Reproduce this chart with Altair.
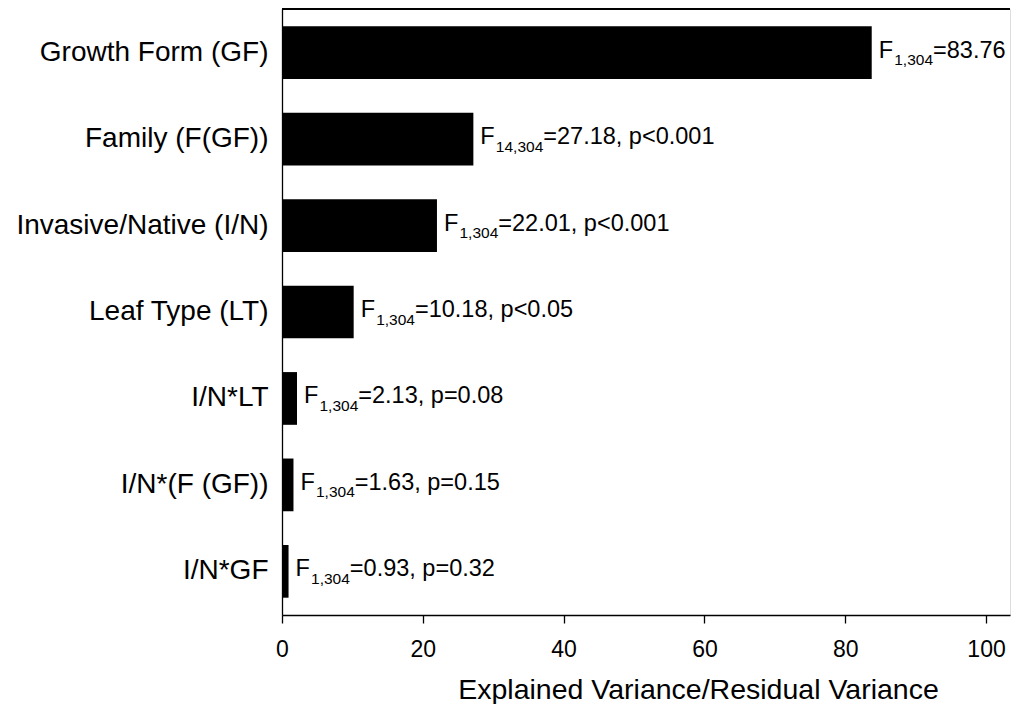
import altair as alt
import pandas as pd

categories = ["Growth Form (GF)", "Family (F(GF))", "Invasive/Native (I/N)", "Leaf Type (LT)",
              "I/N*LT", "I/N*(F (GF))", "I/N*GF"]
values = [83.76, 27.18, 22.01, 10.18, 2.13, 1.63, 0.93]
sub_labels = ["1,304", "14,304", "1,304", "1,304", "1,304", "1,304", "1,304"]
rest_labels = ["=83.76", "=27.18, p<0.001", "=22.01, p<0.001", "=10.18, p<0.05",
               "=2.13, p=0.08", "=1.63, p=0.15", "=0.93, p=0.32"]
x_ticks = [0, 20, 40, 60, 80, 100]

df = pd.DataFrame({"cat": categories, "val": values, "sub": sub_labels, "rest": rest_labels,
                   "F": ["F"] * len(categories)})

FONT = "Liberation Sans"
W, H = 728, 606

xenc = alt.X("val:Q", scale=alt.Scale(domain=[0, 103.4], nice=False, zero=True),
             axis=alt.Axis(values=x_ticks, title="Explained Variance/Residual Variance",
                           grid=False, domainColor="black", domainWidth=1.3, tickColor="black",
                           tickSize=8, tickWidth=1.3, labelFontSize=23, labelFont=FONT,
                           labelColor="black", labelPadding=15, titleFont=FONT,
                           titleFontSize=28.5, titleFontWeight="normal", titleColor="black",
                           titleX=416, titleY=83, titleAlign="center",
                           titleBaseline="alphabetic", labelFlush=False))
yenc = alt.Y("cat:N", sort=categories, scale=alt.Scale(paddingInner=0.39, paddingOuter=0.2),
             axis=alt.Axis(title=None, ticks=False, domainColor="black", domainWidth=1.3,
                           labelFontSize=28, labelFont=FONT, labelColor="black",
                           labelPadding=14, labelLimit=500, grid=False))

base = alt.Chart(df)
bars = base.mark_bar(color="black").encode(x=xenc, y=yenc)

ysort = alt.Y("cat:N", sort=categories)
t_f = base.mark_text(align="left", baseline="alphabetic", dx=7, dy=5, fontSize=23.5,
                     font=FONT, color="black").encode(x="val:Q", y=ysort, text="F:N")
t_sub = base.mark_text(align="left", baseline="alphabetic", dx=22.5, dy=12.5, fontSize=15.5,
                       font=FONT, color="black").encode(x="val:Q", y=ysort, text="sub:N")
t_rest1 = base.transform_filter(alt.datum.sub == "1,304").mark_text(
    align="left", baseline="alphabetic", dx=61.3, dy=5, fontSize=23.5, font=FONT, color="black"
).encode(x="val:Q", y=ysort, text="rest:N")
t_rest2 = base.transform_filter(alt.datum.sub == "14,304").mark_text(
    align="left", baseline="alphabetic", dx=69.9, dy=5, fontSize=23.5, font=FONT, color="black"
).encode(x="val:Q", y=ysort, text="rest:N")

top_rule = base.mark_rule(color="black", strokeWidth=1.3).encode(
    x=alt.value(0), x2=alt.value(W), y=alt.value(0))

chart = alt.layer(bars, t_f, t_sub, t_rest1, t_rest2, top_rule).properties(
    width=W, height=H,
    autosize=alt.AutoSizeParams(type="none"),
    padding={"left": 274, "top": 1, "right": 3, "bottom": 89},
).configure_view(stroke=None).configure(background="white")

chart.save("out.html", embed_options={"renderer": "svg", "actions": False})
